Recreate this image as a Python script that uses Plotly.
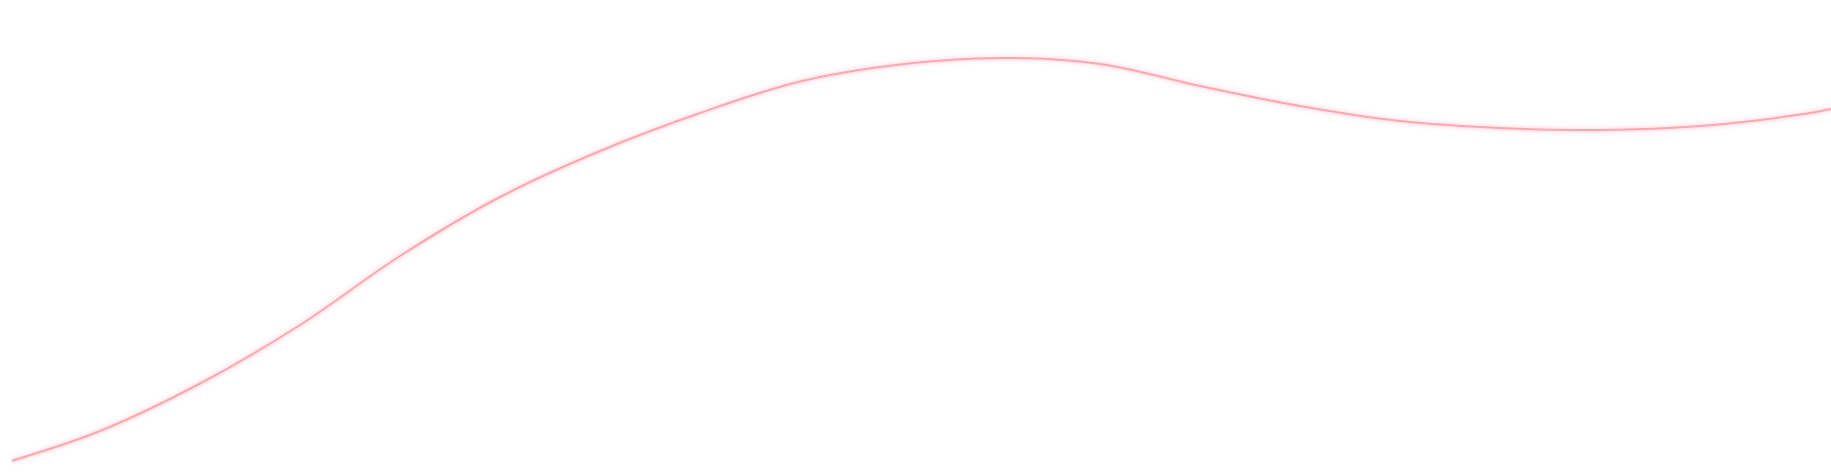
import plotly.graph_objects as go

x_vals = [12, 100, 200, 300, 400, 500, 600, 700, 800, 900, 1000, 1100, 1200, 1300,
          1400, 1500, 1600, 1700, 1800, 1831]
y_vals = [460.7, 431, 383.5, 325, 256, 197, 151, 113, 81.5, 64.5, 58, 64, 86, 106,
          121, 128, 130, 126, 114.6, 109]

LINE = "rgb(255,166,174)"

fig = go.Figure()
# soft glow layers
for w, a in [(12, 0.035), (8, 0.06), (5, 0.1)]:
    fig.add_trace(go.Scatter(x=x_vals, y=y_vals, mode="lines",
                             line=dict(color=f"rgba(255,150,165,{a})", width=w, shape="spline",
                                       smoothing=1.0, simplify=False),
                             hoverinfo="skip", showlegend=False))
fig.add_trace(go.Scatter(x=x_vals, y=y_vals, mode="lines",
                         line=dict(color=LINE, width=2, shape="spline", smoothing=1.0, simplify=False),
                         showlegend=False))

fig.update_layout(
    width=1831, height=472,
    margin=dict(l=0, r=0, t=0, b=0),
    paper_bgcolor="white", plot_bgcolor="white",
    xaxis=dict(range=[0, 1831], visible=False, fixedrange=True),
    yaxis=dict(range=[472, 0], visible=False, fixedrange=True),
)

fig.write_html("out.html", config={"displayModeBar": False},
               post_script="document.body.style.margin='0';document.body.style.overflow='hidden';")
